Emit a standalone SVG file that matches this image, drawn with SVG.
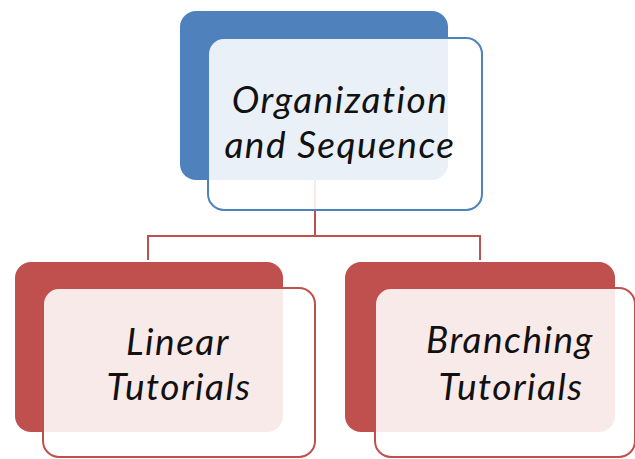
<svg xmlns="http://www.w3.org/2000/svg" width="635" height="459" viewBox="0 0 635 459">
<style>
.back-blue{fill:#4f81bd}
.back-red{fill:#c0504d}
.front{fill:#ffffff;fill-opacity:0.88;stroke-width:2}
.front-blue{stroke:#4f81bd}
.front-red{stroke:#c0504d}
.conn{fill:none;stroke:#c0504d;stroke-width:2}
.lbl{font-family:Lato,"Open Sans",sans-serif;font-style:italic;font-size:37px;letter-spacing:1.5px;fill:#111;text-anchor:middle}
</style>
<rect width="635" height="459" fill="#ffffff"/>
<g id="connectors">
<path class="conn" d="M315 180 V236 M148 260 V236 H480 V260"/>
</g>
<g id="node-organization">
<rect class="back-blue" x="180" y="11" width="268" height="169" rx="16"/>
<rect class="front front-blue" x="208" y="38" width="274" height="172" rx="16"/>
<text class="lbl" x="340" y="113">Organization</text>
<text class="lbl" x="340" y="158">and Sequence</text>
</g>
<g id="node-linear">
<rect class="back-red" x="15" y="262" width="268" height="170" rx="16"/>
<rect class="front front-red" x="43" y="288" width="272" height="169" rx="16"/>
<text class="lbl" x="178" y="355">Linear</text>
<text class="lbl" x="179" y="400">Tutorials</text>
</g>
<g id="node-branching">
<rect class="back-red" x="345" y="262" width="270" height="170" rx="16"/>
<rect class="front front-red" x="375" y="288" width="260" height="169" rx="16"/>
<text class="lbl" x="510" y="353">Branching</text>
<text class="lbl" x="511" y="400">Tutorials</text>
</g>
</svg>
